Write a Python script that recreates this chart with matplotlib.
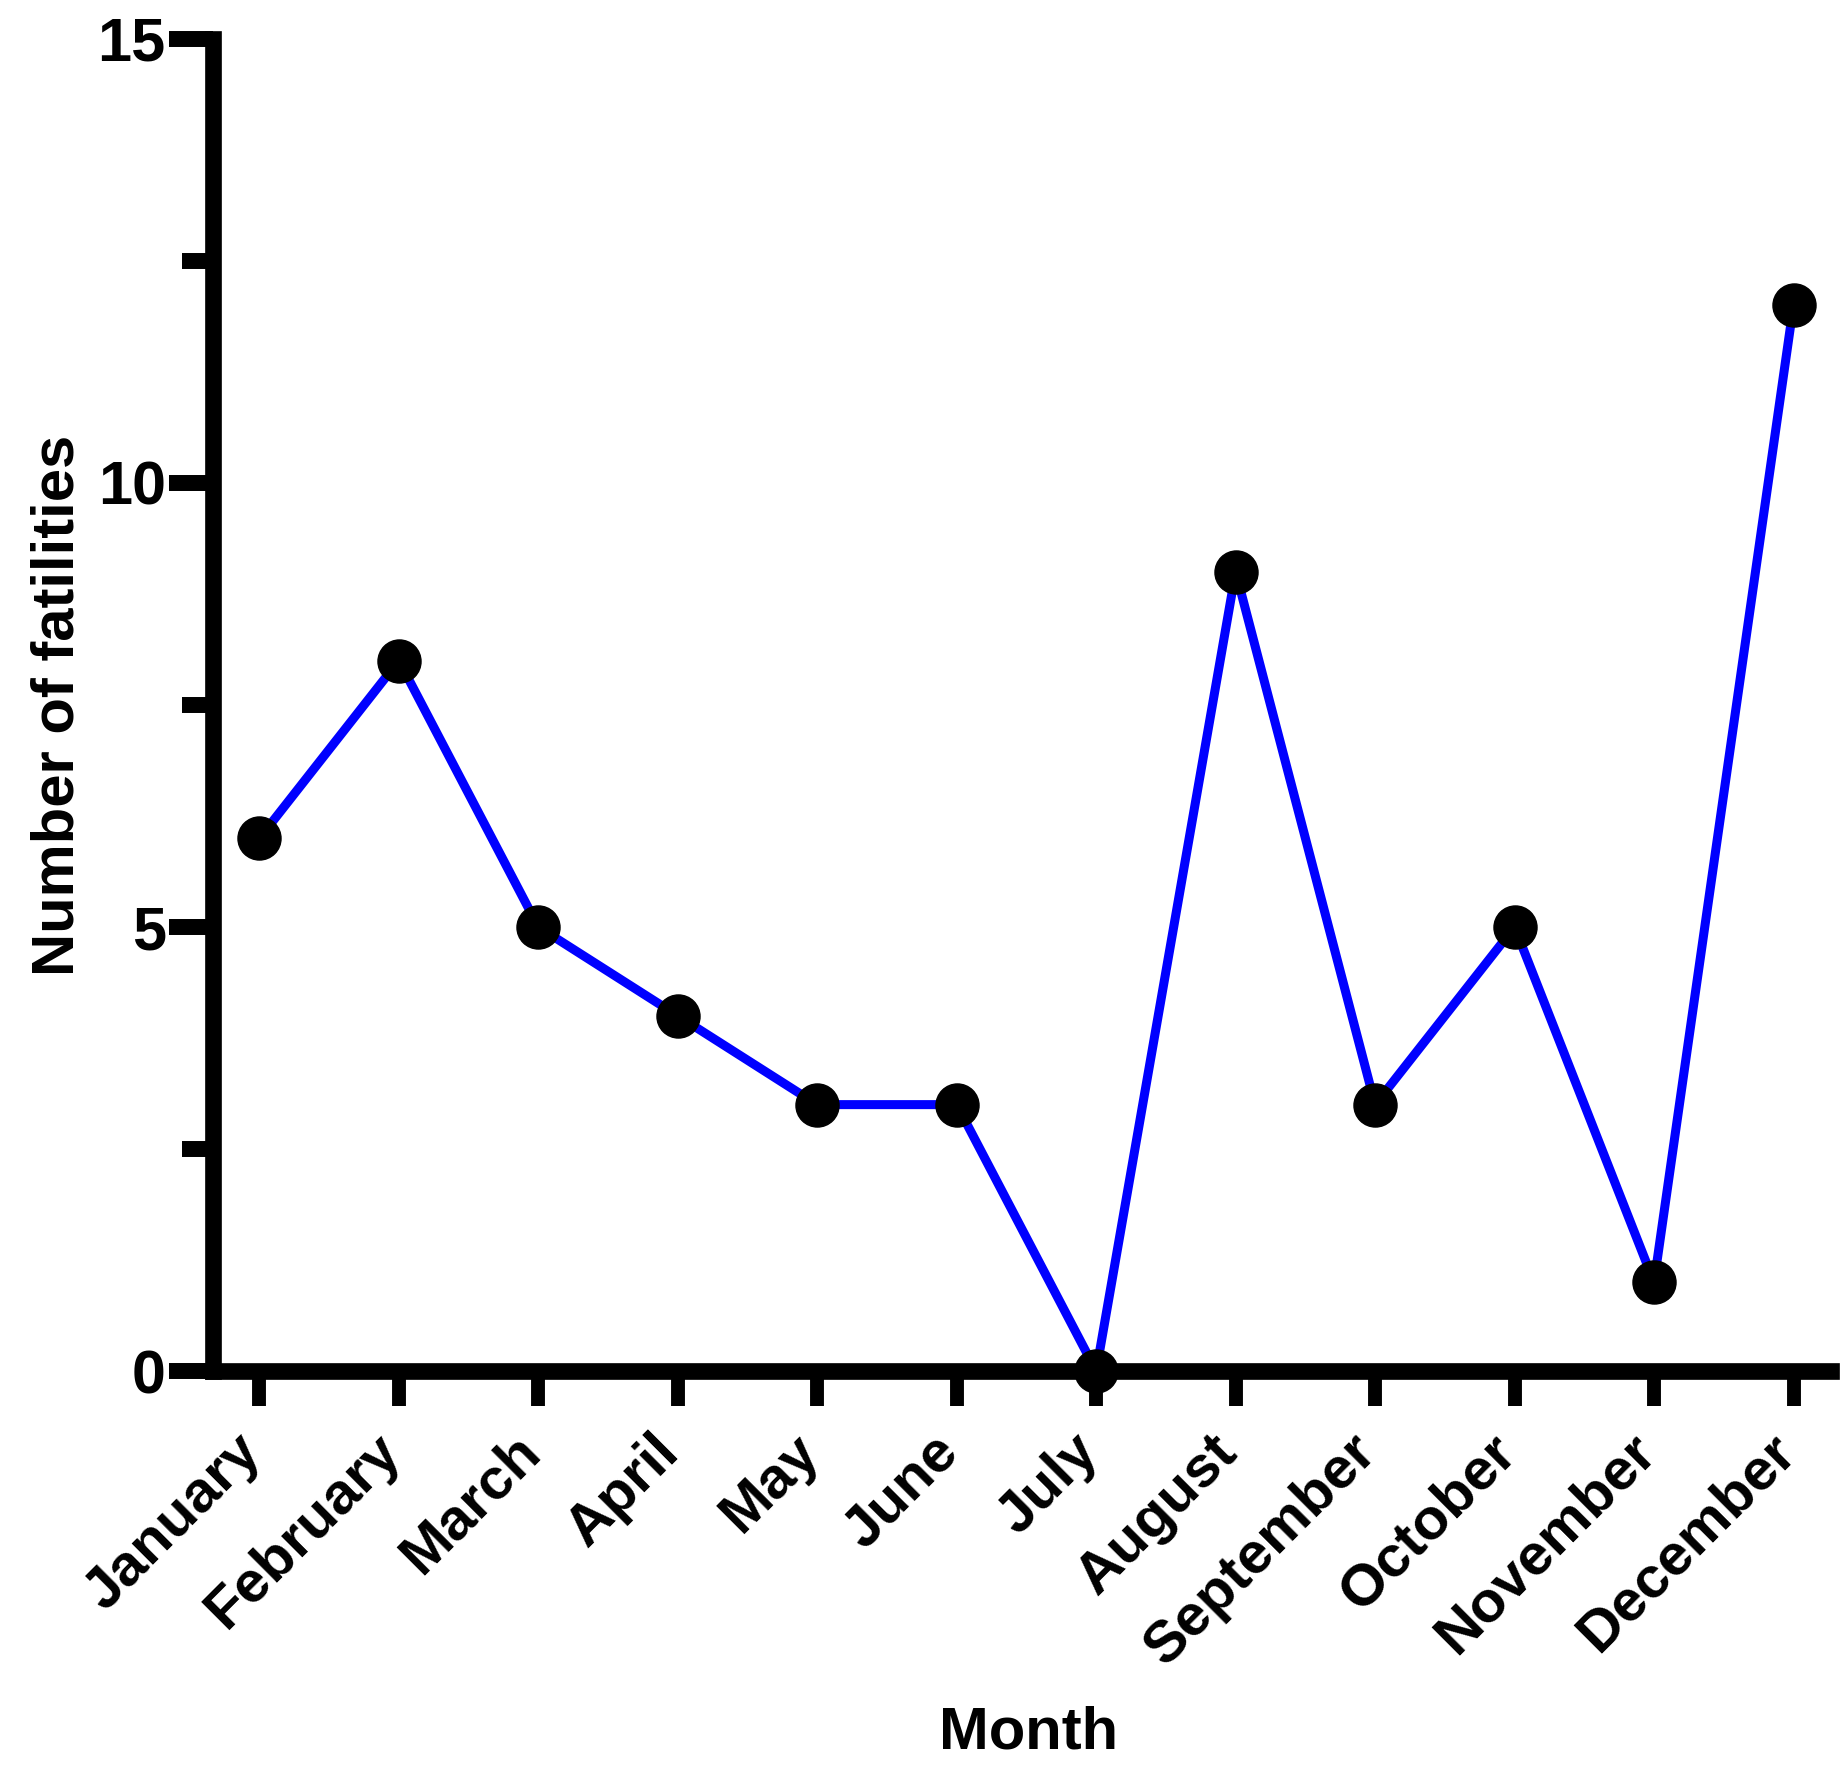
import numpy as np
import matplotlib
matplotlib.use("Agg")
import matplotlib.pyplot as plt
import matplotlib.transforms as mtransforms
from matplotlib.ticker import MultipleLocator

# monthly fatalities
months = ["January", "February", "March", "April", "May", "June", "July",
          "August", "September", "October", "November", "December"]
fatalities = [6, 8, 5, 4, 3, 3, 0, 9, 3, 5, 1, 12]

plt.rcParams['font.family'] = ['Liberation Sans', 'DejaVu Sans']
plt.rcParams['font.weight'] = 'bold'

fig = plt.figure(figsize=(18.49, 17.70), dpi=100)
ax = fig.add_axes([0.1152, 0.2254, 0.875, 0.7526])

x = np.arange(len(months))
ax.plot(x, fatalities, color='#0000ff', lw=6.5, zorder=3, clip_on=False)
ax.plot(x, fatalities, 'o', color='black', ms=31, zorder=4, clip_on=False)

ax.set_xlim(-0.333, 11.268)
ax.set_ylim(0, 15)

for s in ['top', 'right']:
    ax.spines[s].set_visible(False)
for s in ['left', 'bottom']:
    ax.spines[s].set_linewidth(12)
    ax.spines[s].set_zorder(2)

ax.yaxis.set_major_locator(MultipleLocator(5))
ax.yaxis.set_minor_locator(MultipleLocator(2.5))
ax.tick_params(axis='y', which='major', length=32, width=11.5, labelsize=44, pad=2)
ax.tick_params(axis='y', which='minor', length=22, width=11.5)
ax.set_xticks(x)
ax.set_xticklabels(months, rotation=45, ha='right', rotation_mode='anchor')
ax.tick_params(axis='x', which='major', length=25, width=10, labelsize=42, pad=14)
ax.tick_params(axis='x', which='minor', length=0)

# nudge the slanted month labels left like the original
shift = mtransforms.ScaledTranslation(-0.26, 0.01, fig.dpi_scale_trans)
for lbl in ax.get_xticklabels():
    lbl.set_transform(lbl.get_transform() + shift)

ax.set_ylabel("Number of fatilities", fontsize=43, fontweight='bold')
ax.yaxis.set_label_coords(-0.079, 0.5)
ax.set_xlabel("Month", fontsize=43, fontweight='bold')
ax.xaxis.set_label_coords(0.504, -0.251)

fig.savefig("out.png", dpi=100)
